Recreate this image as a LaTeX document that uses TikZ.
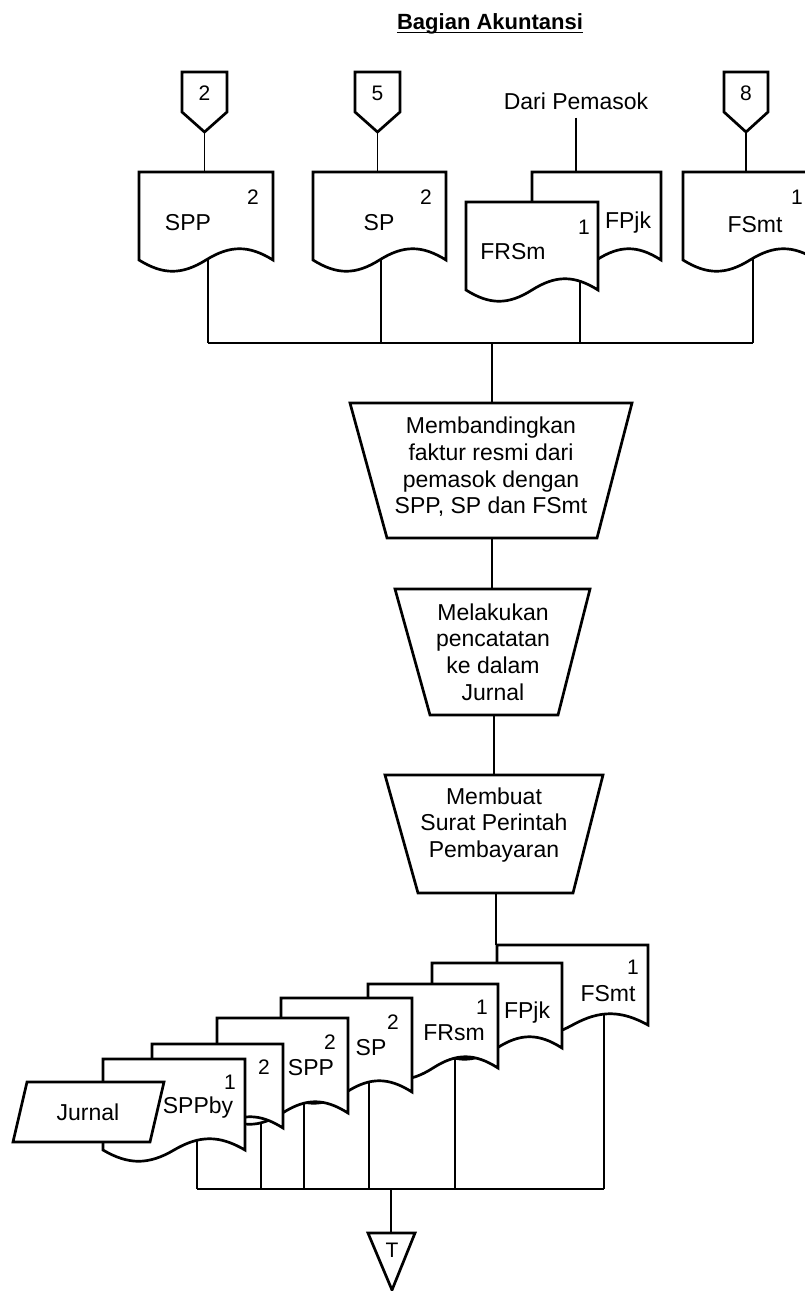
\documentclass[tikz,border=0pt]{standalone}
\usepackage{fontspec}
\setmainfont{Liberation Sans}
\usetikzlibrary{calc}
\tikzset{
  outline/.style={line width=2.7pt, line join=miter, fill=white},
  conn/.style={line width=1.5pt},
  txt/.style={font=\fontsize{23}{26.7}\selectfont, inner sep=0pt, align=center},
  num/.style={font=\fontsize{21}{24}\selectfont, inner sep=0pt},
  docbox/.style={inner sep=0pt, outer sep=0pt, anchor=north west},
}
% document symbol: name, left, top, width, height
\newcommand\docsym[5]{%
  \node[docbox, minimum width=#4pt, minimum height=#5pt] (#1) at (#2,#3) {};
  \draw[outline] (#2,#3) -- ({#2+#4},#3) -- ({#2+#4},{#3+#5})
    .. controls ({#2+0.82*#4},{#3+#5-15}) and ({#2+0.68*#4},{#3+#5-15}) .. ({#2+0.5*#4},{#3+#5})
    .. controls ({#2+0.32*#4},{#3+#5+15}) and ({#2+0.18*#4},{#3+#5+15}) .. (#2,{#3+#5}) -- cycle;
}
% off-page connector: name, left, right, label
\newcommand\offpage[4]{%
  \draw[outline] (#2,72) -- (#3,72) -- (#3,112) -- ({(#2+#3)/2},132) -- (#2,112) -- cycle;
  \node[num] (#1) at ({(#2+#3)/2},93) {#4};
  \coordinate (#1-tip) at ({(#2+#3)/2},132);
}
\begin{document}
\begin{tikzpicture}[x=1pt,y=-1pt]
\useasboundingbox (0,0) rectangle (805,1291);

% heading, underlined
\node[font=\bfseries\fontsize{22}{26}\selectfont, inner sep=0pt, anchor=base] (title) at (490,29) {Bagian Akuntansi};
\draw[line width=1.8pt] ([yshift=-3.5pt]title.base west) -- ([yshift=-3.5pt]title.base east);

% ---------- incoming documents ----------
\coordinate (busTL) at (208,343);
\coordinate (busTR) at (753,343);
\coordinate (busTM) at (492,343);
\coordinate (o-spp) at (208,250);
\coordinate (o-sp) at (381,250);
\coordinate (o-frsm) at (580,280);
\coordinate (o-fsmt) at (753,250);

\draw[conn] (busTL) -- (busTR);
\draw[conn] (o-spp) -- (o-spp |- busTL);
\draw[conn] (o-sp) -- (o-sp |- busTL);
\draw[conn] (o-frsm) -- (o-frsm |- busTL);
\draw[conn] (o-fsmt) -- (o-fsmt |- busTL);

\offpage{k2}{182}{227}{2}
\offpage{k5}{355}{400}{5}
\offpage{k8}{724}{768}{8}
\node[txt] (dari) at (576,101) {Dari Pemasok};

\draw[conn] (k2-tip) -- (k2-tip |- 0,172);
\draw[conn] (k5-tip) -- (k5-tip |- 0,172);
\draw[conn] (k8-tip) -- (k8-tip |- 0,172);
\draw[conn] ([yshift=-8pt]dari.south) -- (dari.south |- 0,172);

\docsym{spp}{139}{172}{134}{88}
\node[num] (spp-n) at (253,197) {2};
\node[txt] (spp-t) at (188,223) {SPP};

\docsym{sp}{313}{172}{133}{88}
\node[num] (sp-n) at (426,197) {2};
\node[txt] (sp-t) at (379,223) {SP};

\docsym{fpjk}{532}{172}{129}{88}
\node[txt] (fpjk-t) at (628,223) {FPjk};

\docsym{frsm}{466}{202}{132}{88}
\node[num] (frsm-n) at (584,227) {1};
\node[txt] (frsm-t) at (513,252) {FRSm};

\docsym{fsmt}{683}{172}{134}{88}
\node[num] (fsmt-n) at (797,197) {1};
\node[txt] (fsmt-t) at (755,225) {FSmt};

% ---------- processing steps ----------
\draw[conn] (busTM) -- (492,403) coordinate (p1-top);
\draw[outline] (350,403) -- (632,403) -- (597,538) -- (387,538) -- cycle;
\node[txt] (p1) at (491,467) {Membandingkan\\faktur resmi dari\\pemasok dengan\\SPP, SP dan FSmt};
\coordinate (p1-bot) at (492,538);

\coordinate (p2-top) at (492,589);
\draw[conn] (p1-bot) -- (p2-top);
\draw[outline] (395,589) -- (590,589) -- (558,715) -- (430,715) -- cycle;
\node[txt] (p2) at (493,652) {Melakukan\\pencatatan\\ke dalam\\Jurnal};
\coordinate (p2-bot) at (494,715);

\coordinate (p3-top) at (494,775);
\draw[conn] (p2-bot) -- (p3-top);
\draw[outline] (385,775) -- (603,775) -- (573,893) -- (418,893) -- cycle;
\node[txt] (p3) at (494,825) {Membuat\\Surat Perintah\\Pembayaran};
\coordinate (p3-bot) at (496,893);

% ---------- outgoing documents ----------
\coordinate (busBL) at (197,1189);
\coordinate (busBR) at (604,1189);
\coordinate (busBM) at (391,1189);
\draw[conn] (p3-bot) -- (496,945);
\draw[conn] (busBL) -- (busBR);
\coordinate (ob-sppby) at (197,1110);
\coordinate (ob-sppby2) at (261,1090);
\coordinate (ob-spp) at (304,1070);
\coordinate (ob-sp) at (369,1050);
\coordinate (ob-frsm) at (455,1030);
\coordinate (ob-fsmt) at (604,990);
\foreach \oo in {sppby,sppby2,spp,sp,frsm,fsmt}
  \draw[conn] (ob-\oo) -- (ob-\oo |- busBL);

\docsym{ofsmt}{497}{945}{151}{80}
\node[num] (ofsmt-n) at (633,967) {1};
\node[txt] (ofsmt-t) at (608,994) {FSmt};

\docsym{ofpjk}{432}{963}{130}{85}
\node[txt] (ofpjk-t) at (527,1013) {FPjk};

\docsym{ofrsm}{368}{984}{130}{84}
\node[num] (ofrsm-n) at (482,1007) {1};
\node[txt] (ofrsm-t) at (454,1033) {FRsm};

\docsym{osp}{281}{998}{131}{94}
\node[num] (osp-n) at (393,1022) {2};
\node[txt] (osp-t) at (371,1048) {SP};

\docsym{ospp}{217}{1018}{131}{95}
\node[num] (ospp-n) at (330,1042) {2};
\node[txt] (ospp-t) at (311,1068) {SPP};

\docsym{osppby2}{152}{1044}{131}{84}
\node[num] (osppby2-n) at (264,1067) {2};

\docsym{osppby}{103}{1059}{142}{91}
\node[num] (osppby-n) at (230,1082) {1};
\node[txt] (osppby-t) at (198,1108) {SPPby};

\draw[outline] (27,1082) -- (164,1082) -- (150,1142) -- (13,1142) -- cycle;
\node[txt] (jurnal) at (88,1112) {Jurnal};

% file copy
\coordinate (t-top) at (391,1233);
\draw[conn] (busBM) -- (t-top);
\draw[outline] (368,1233) -- (415,1233) -- (392,1290) -- cycle;
\node[num] (tfile) at (392,1250) {T};
\end{tikzpicture}
\end{document}
